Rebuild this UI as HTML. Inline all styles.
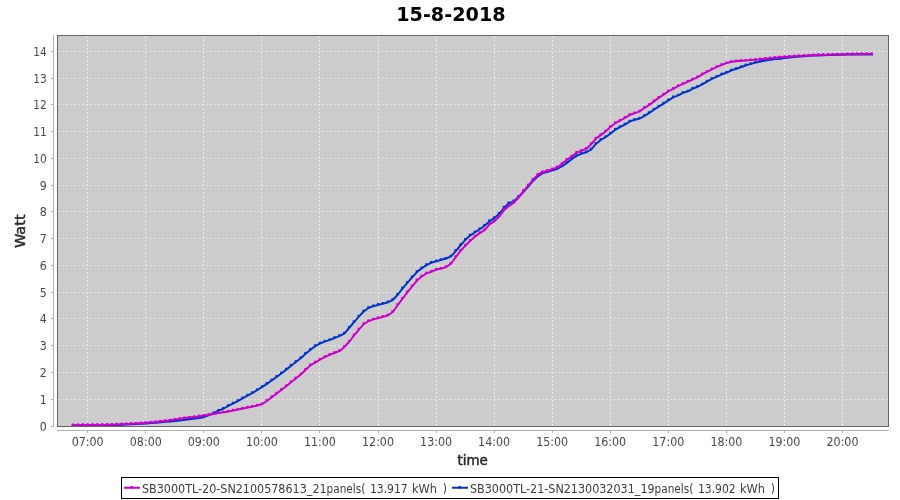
<!DOCTYPE html>
<html lang="en">
<head>
<meta charset="utf-8">
<title>15-8-2018</title>
<style>
html,body{margin:0;padding:0;background:#ffffff;}
body{width:900px;height:500px;overflow:hidden;font-family:"DejaVu Sans Condensed","DejaVu Sans","Liberation Sans",sans-serif;}
svg text{white-space:pre;}
</style>
</head>
<body>
<svg width="900" height="500" viewBox="0 0 900 500" style="display:block">
<rect x="0" y="0" width="900" height="500" fill="#ffffff"/>
<text x="450.9" y="20.6" text-anchor="middle" font-family="'DejaVu Sans', 'Liberation Sans', sans-serif" font-weight="bold" font-size="20" fill="#000" textLength="109.4" lengthAdjust="spacingAndGlyphs">15-8-2018</text>
<rect x="57" y="35" width="832" height="392" fill="#cccccc"/>
<g stroke="#ffffff" stroke-opacity="0.56" stroke-width="1" stroke-dasharray="2,2" shape-rendering="crispEdges"><line x1="87.5" y1="36" x2="87.5" y2="426"/><line x1="145.5" y1="36" x2="145.5" y2="426"/><line x1="203.5" y1="36" x2="203.5" y2="426"/><line x1="261.5" y1="36" x2="261.5" y2="426"/><line x1="319.5" y1="36" x2="319.5" y2="426"/><line x1="378.5" y1="36" x2="378.5" y2="426"/><line x1="436.5" y1="36" x2="436.5" y2="426"/><line x1="494.5" y1="36" x2="494.5" y2="426"/><line x1="552.5" y1="36" x2="552.5" y2="426"/><line x1="610.5" y1="36" x2="610.5" y2="426"/><line x1="668.5" y1="36" x2="668.5" y2="426"/><line x1="726.5" y1="36" x2="726.5" y2="426"/><line x1="784.5" y1="36" x2="784.5" y2="426"/><line x1="842.5" y1="36" x2="842.5" y2="426"/></g>
<g stroke="#ffffff" stroke-opacity="0.47" stroke-width="1" stroke-dasharray="2,2" shape-rendering="crispEdges"><line x1="58" y1="426.5" x2="888" y2="426.5"/><line x1="58" y1="399.5" x2="888" y2="399.5"/><line x1="58" y1="372.5" x2="888" y2="372.5"/><line x1="58" y1="345.5" x2="888" y2="345.5"/><line x1="58" y1="318.5" x2="888" y2="318.5"/><line x1="58" y1="292.5" x2="888" y2="292.5"/><line x1="58" y1="265.5" x2="888" y2="265.5"/><line x1="58" y1="238.5" x2="888" y2="238.5"/><line x1="58" y1="211.5" x2="888" y2="211.5"/><line x1="58" y1="185.5" x2="888" y2="185.5"/><line x1="58" y1="158.5" x2="888" y2="158.5"/><line x1="58" y1="131.5" x2="888" y2="131.5"/><line x1="58" y1="104.5" x2="888" y2="104.5"/><line x1="58" y1="78.5" x2="888" y2="78.5"/><line x1="58" y1="51.5" x2="888" y2="51.5"/></g>
<polyline points="73.3,425.4 78.5,425.4 83.4,425.3 88.2,425.3 93.0,425.2 97.9,425.2 102.7,425.1 107.6,425.0 112.4,425.0 117.2,424.9 122.1,424.7 126.9,424.5 131.7,424.3 136.6,424.0 141.4,423.8 146.3,423.5 151.1,423.1 155.9,422.8 160.8,422.3 165.6,421.8 170.5,421.4 175.3,420.9 180.1,420.4 185.0,419.8 189.8,419.2 194.6,418.6 199.5,417.9 204.3,416.9 209.2,415.1 214.0,413.0 218.8,410.6 223.7,408.5 228.5,405.8 233.4,403.4 238.2,400.9 243.0,398.1 247.9,395.4 252.7,392.9 257.5,390.0 262.4,386.8 267.2,383.6 272.1,380.2 276.9,376.7 281.7,373.2 286.6,369.4 291.4,365.5 296.2,361.8 301.1,358.0 305.9,353.6 310.8,349.5 315.6,345.9 320.4,343.3 325.3,341.4 330.1,339.9 335.0,337.8 339.8,335.8 344.6,333.4 349.5,327.5 354.3,321.9 359.1,316.4 364.0,311.2 368.8,307.8 373.7,306.1 378.5,304.7 383.3,303.6 388.2,302.2 393.0,299.8 397.9,294.5 402.7,288.3 407.5,282.7 412.4,277.2 417.2,271.8 422.0,268.1 426.9,264.8 431.7,262.5 436.6,261.2 441.4,259.8 446.2,258.5 451.1,256.4 455.9,250.8 460.8,245.0 465.6,239.6 470.4,235.3 475.3,232.2 480.1,229.0 484.9,225.5 489.8,221.1 494.6,217.9 499.5,213.5 504.3,207.5 509.1,203.1 514.0,201.2 518.8,196.7 523.7,191.7 528.5,186.4 533.3,180.7 538.2,176.1 543.0,173.0 547.8,171.7 552.7,170.3 557.5,168.7 562.4,166.2 567.2,162.6 572.0,158.9 576.9,155.6 581.7,153.6 586.5,152.2 591.4,149.3 596.2,143.7 601.1,139.7 605.9,137.0 610.7,133.4 615.6,129.5 620.4,126.9 625.3,124.3 630.1,121.4 634.9,119.8 639.8,118.5 644.6,115.8 649.4,112.9 654.3,109.5 659.1,106.4 664.0,103.3 668.8,100.1 673.6,97.1 678.5,95.4 683.3,92.7 688.2,91.3 693.0,88.5 697.8,86.7 702.7,84.2 707.5,81.4 712.3,78.7 717.2,76.6 722.0,74.3 726.9,72.5 731.7,70.3 736.5,68.8 741.4,67.0 746.2,65.2 751.1,63.9 755.9,62.5 760.7,61.5 765.6,60.5 770.4,59.8 775.2,59.1 780.1,58.7 784.9,58.1 789.8,57.5 794.6,57.0 799.4,56.6 804.3,56.2 809.1,55.8 814.0,55.6 818.8,55.4 823.6,55.2 828.5,55.0 833.3,54.9 838.1,54.8 843.0,54.7 847.8,54.5 852.7,54.5 857.5,54.5 862.3,54.4 867.2,54.4 872.0,54.4" fill="none" stroke="#0033cc" stroke-width="2" stroke-linejoin="round" stroke-linecap="square"/>
<g fill="#0033cc"><rect x="71.7" y="423.8" width="2.2" height="2.2"/><rect x="76.9" y="423.8" width="2.2" height="2.2"/><rect x="81.8" y="423.7" width="2.2" height="2.2"/><rect x="86.6" y="423.7" width="2.2" height="2.2"/><rect x="91.4" y="423.6" width="2.2" height="2.2"/><rect x="96.3" y="423.6" width="2.2" height="2.2"/><rect x="101.1" y="423.5" width="2.2" height="2.2"/><rect x="106.0" y="423.4" width="2.2" height="2.2"/><rect x="110.8" y="423.4" width="2.2" height="2.2"/><rect x="115.6" y="423.3" width="2.2" height="2.2"/><rect x="120.5" y="423.1" width="2.2" height="2.2"/><rect x="125.3" y="422.9" width="2.2" height="2.2"/><rect x="130.1" y="422.7" width="2.2" height="2.2"/><rect x="135.0" y="422.4" width="2.2" height="2.2"/><rect x="139.8" y="422.2" width="2.2" height="2.2"/><rect x="144.7" y="421.9" width="2.2" height="2.2"/><rect x="149.5" y="421.5" width="2.2" height="2.2"/><rect x="154.3" y="421.2" width="2.2" height="2.2"/><rect x="159.2" y="420.7" width="2.2" height="2.2"/><rect x="164.0" y="420.2" width="2.2" height="2.2"/><rect x="168.9" y="419.8" width="2.2" height="2.2"/><rect x="173.7" y="419.3" width="2.2" height="2.2"/><rect x="178.5" y="418.8" width="2.2" height="2.2"/><rect x="183.4" y="418.2" width="2.2" height="2.2"/><rect x="188.2" y="417.6" width="2.2" height="2.2"/><rect x="193.0" y="417.0" width="2.2" height="2.2"/><rect x="197.9" y="416.3" width="2.2" height="2.2"/><rect x="202.7" y="415.3" width="2.2" height="2.2"/><rect x="207.6" y="413.5" width="2.2" height="2.2"/><rect x="212.4" y="411.4" width="2.2" height="2.2"/><rect x="217.2" y="409.0" width="2.2" height="2.2"/><rect x="222.1" y="406.9" width="2.2" height="2.2"/><rect x="226.9" y="404.2" width="2.2" height="2.2"/><rect x="231.8" y="401.8" width="2.2" height="2.2"/><rect x="236.6" y="399.3" width="2.2" height="2.2"/><rect x="241.4" y="396.5" width="2.2" height="2.2"/><rect x="246.3" y="393.8" width="2.2" height="2.2"/><rect x="251.1" y="391.3" width="2.2" height="2.2"/><rect x="255.9" y="388.4" width="2.2" height="2.2"/><rect x="260.8" y="385.2" width="2.2" height="2.2"/><rect x="265.6" y="382.0" width="2.2" height="2.2"/><rect x="270.5" y="378.6" width="2.2" height="2.2"/><rect x="275.3" y="375.1" width="2.2" height="2.2"/><rect x="280.1" y="371.6" width="2.2" height="2.2"/><rect x="285.0" y="367.8" width="2.2" height="2.2"/><rect x="289.8" y="363.9" width="2.2" height="2.2"/><rect x="294.6" y="360.2" width="2.2" height="2.2"/><rect x="299.5" y="356.4" width="2.2" height="2.2"/><rect x="304.3" y="351.9" width="2.2" height="2.2"/><rect x="309.2" y="347.9" width="2.2" height="2.2"/><rect x="314.0" y="344.3" width="2.2" height="2.2"/><rect x="318.8" y="341.7" width="2.2" height="2.2"/><rect x="323.7" y="339.8" width="2.2" height="2.2"/><rect x="328.5" y="338.3" width="2.2" height="2.2"/><rect x="333.4" y="336.2" width="2.2" height="2.2"/><rect x="338.2" y="334.2" width="2.2" height="2.2"/><rect x="343.0" y="331.8" width="2.2" height="2.2"/><rect x="347.9" y="325.9" width="2.2" height="2.2"/><rect x="352.7" y="320.3" width="2.2" height="2.2"/><rect x="357.5" y="314.8" width="2.2" height="2.2"/><rect x="362.4" y="309.6" width="2.2" height="2.2"/><rect x="367.2" y="306.2" width="2.2" height="2.2"/><rect x="372.1" y="304.5" width="2.2" height="2.2"/><rect x="376.9" y="303.1" width="2.2" height="2.2"/><rect x="381.7" y="302.0" width="2.2" height="2.2"/><rect x="386.6" y="300.6" width="2.2" height="2.2"/><rect x="391.4" y="298.2" width="2.2" height="2.2"/><rect x="396.3" y="292.9" width="2.2" height="2.2"/><rect x="401.1" y="286.7" width="2.2" height="2.2"/><rect x="405.9" y="281.1" width="2.2" height="2.2"/><rect x="410.8" y="275.6" width="2.2" height="2.2"/><rect x="415.6" y="270.2" width="2.2" height="2.2"/><rect x="420.4" y="266.5" width="2.2" height="2.2"/><rect x="425.3" y="263.2" width="2.2" height="2.2"/><rect x="430.1" y="260.9" width="2.2" height="2.2"/><rect x="435.0" y="259.6" width="2.2" height="2.2"/><rect x="439.8" y="258.2" width="2.2" height="2.2"/><rect x="444.6" y="256.9" width="2.2" height="2.2"/><rect x="449.5" y="254.8" width="2.2" height="2.2"/><rect x="454.3" y="249.2" width="2.2" height="2.2"/><rect x="459.2" y="243.4" width="2.2" height="2.2"/><rect x="464.0" y="238.0" width="2.2" height="2.2"/><rect x="468.8" y="233.7" width="2.2" height="2.2"/><rect x="473.7" y="230.6" width="2.2" height="2.2"/><rect x="478.5" y="227.4" width="2.2" height="2.2"/><rect x="483.3" y="223.9" width="2.2" height="2.2"/><rect x="488.2" y="219.5" width="2.2" height="2.2"/><rect x="493.0" y="216.3" width="2.2" height="2.2"/><rect x="497.9" y="211.9" width="2.2" height="2.2"/><rect x="502.7" y="205.9" width="2.2" height="2.2"/><rect x="507.5" y="201.5" width="2.2" height="2.2"/><rect x="512.4" y="199.6" width="2.2" height="2.2"/><rect x="517.2" y="195.1" width="2.2" height="2.2"/><rect x="522.1" y="190.1" width="2.2" height="2.2"/><rect x="526.9" y="184.8" width="2.2" height="2.2"/><rect x="531.7" y="179.1" width="2.2" height="2.2"/><rect x="536.6" y="174.5" width="2.2" height="2.2"/><rect x="541.4" y="171.4" width="2.2" height="2.2"/><rect x="546.2" y="170.1" width="2.2" height="2.2"/><rect x="551.1" y="168.7" width="2.2" height="2.2"/><rect x="555.9" y="167.1" width="2.2" height="2.2"/><rect x="560.8" y="164.6" width="2.2" height="2.2"/><rect x="565.6" y="161.0" width="2.2" height="2.2"/><rect x="570.4" y="157.3" width="2.2" height="2.2"/><rect x="575.3" y="154.0" width="2.2" height="2.2"/><rect x="580.1" y="152.0" width="2.2" height="2.2"/><rect x="584.9" y="150.6" width="2.2" height="2.2"/><rect x="589.8" y="147.7" width="2.2" height="2.2"/><rect x="594.6" y="142.1" width="2.2" height="2.2"/><rect x="599.5" y="138.1" width="2.2" height="2.2"/><rect x="604.3" y="135.4" width="2.2" height="2.2"/><rect x="609.1" y="131.8" width="2.2" height="2.2"/><rect x="614.0" y="127.9" width="2.2" height="2.2"/><rect x="618.8" y="125.3" width="2.2" height="2.2"/><rect x="623.7" y="122.7" width="2.2" height="2.2"/><rect x="628.5" y="119.8" width="2.2" height="2.2"/><rect x="633.3" y="118.2" width="2.2" height="2.2"/><rect x="638.2" y="116.9" width="2.2" height="2.2"/><rect x="643.0" y="114.2" width="2.2" height="2.2"/><rect x="647.8" y="111.3" width="2.2" height="2.2"/><rect x="652.7" y="107.9" width="2.2" height="2.2"/><rect x="657.5" y="104.8" width="2.2" height="2.2"/><rect x="662.4" y="101.7" width="2.2" height="2.2"/><rect x="667.2" y="98.5" width="2.2" height="2.2"/><rect x="672.0" y="95.5" width="2.2" height="2.2"/><rect x="676.9" y="93.8" width="2.2" height="2.2"/><rect x="681.7" y="91.1" width="2.2" height="2.2"/><rect x="686.6" y="89.7" width="2.2" height="2.2"/><rect x="691.4" y="86.9" width="2.2" height="2.2"/><rect x="696.2" y="85.1" width="2.2" height="2.2"/><rect x="701.1" y="82.6" width="2.2" height="2.2"/><rect x="705.9" y="79.8" width="2.2" height="2.2"/><rect x="710.7" y="77.1" width="2.2" height="2.2"/><rect x="715.6" y="75.0" width="2.2" height="2.2"/><rect x="720.4" y="72.7" width="2.2" height="2.2"/><rect x="725.3" y="70.9" width="2.2" height="2.2"/><rect x="730.1" y="68.7" width="2.2" height="2.2"/><rect x="734.9" y="67.2" width="2.2" height="2.2"/><rect x="739.8" y="65.4" width="2.2" height="2.2"/><rect x="744.6" y="63.6" width="2.2" height="2.2"/><rect x="749.5" y="62.3" width="2.2" height="2.2"/><rect x="754.3" y="60.9" width="2.2" height="2.2"/><rect x="759.1" y="59.9" width="2.2" height="2.2"/><rect x="764.0" y="58.9" width="2.2" height="2.2"/><rect x="768.8" y="58.2" width="2.2" height="2.2"/><rect x="773.6" y="57.5" width="2.2" height="2.2"/><rect x="778.5" y="57.1" width="2.2" height="2.2"/><rect x="783.3" y="56.5" width="2.2" height="2.2"/><rect x="788.2" y="55.9" width="2.2" height="2.2"/><rect x="793.0" y="55.4" width="2.2" height="2.2"/><rect x="797.8" y="55.0" width="2.2" height="2.2"/><rect x="802.7" y="54.6" width="2.2" height="2.2"/><rect x="807.5" y="54.2" width="2.2" height="2.2"/><rect x="812.4" y="54.0" width="2.2" height="2.2"/><rect x="817.2" y="53.8" width="2.2" height="2.2"/><rect x="822.0" y="53.6" width="2.2" height="2.2"/><rect x="826.9" y="53.4" width="2.2" height="2.2"/><rect x="831.7" y="53.3" width="2.2" height="2.2"/><rect x="836.5" y="53.2" width="2.2" height="2.2"/><rect x="841.4" y="53.1" width="2.2" height="2.2"/><rect x="846.2" y="52.9" width="2.2" height="2.2"/><rect x="851.1" y="52.9" width="2.2" height="2.2"/><rect x="855.9" y="52.9" width="2.2" height="2.2"/><rect x="860.7" y="52.8" width="2.2" height="2.2"/><rect x="865.6" y="52.8" width="2.2" height="2.2"/><rect x="870.4" y="52.8" width="2.2" height="2.2"/></g>

<polyline points="73.3,425.2 78.5,425.2 83.4,425.1 88.2,425.1 93.0,425.0 97.9,425.0 102.7,424.9 107.6,424.8 112.4,424.7 117.2,424.5 122.1,424.3 126.9,424.1 131.7,423.8 136.6,423.5 141.4,423.2 146.3,422.8 151.1,422.5 155.9,422.1 160.8,421.5 165.6,420.9 170.5,420.3 175.3,419.6 180.1,418.8 185.0,418.1 189.8,417.5 194.6,416.9 199.5,416.2 204.3,415.5 209.2,414.8 214.0,413.9 218.8,413.0 223.7,412.3 228.5,411.4 233.4,410.4 238.2,409.5 243.0,408.5 247.9,407.5 252.7,406.6 257.5,405.5 262.4,404.0 267.2,400.7 272.1,397.0 276.9,393.4 281.7,389.7 286.6,385.9 291.4,382.0 296.2,378.2 301.1,374.3 305.9,369.5 310.8,365.1 315.6,362.3 320.4,359.4 325.3,356.9 330.1,354.6 335.0,352.7 339.8,350.9 344.6,346.7 349.5,341.5 354.3,335.2 359.1,329.3 364.0,323.9 368.8,321.0 373.7,319.4 378.5,318.0 383.3,316.7 388.2,315.3 393.0,311.8 397.9,304.8 402.7,298.5 407.5,292.1 412.4,286.2 417.2,280.3 422.0,276.3 426.9,273.2 431.7,271.6 436.6,269.6 441.4,268.6 446.2,267.0 451.1,263.6 455.9,257.0 460.8,250.6 465.6,245.5 470.4,240.7 475.3,236.4 480.1,232.9 484.9,229.9 489.8,224.2 494.6,221.1 499.5,216.2 504.3,210.0 509.1,205.8 514.0,202.7 518.8,197.3 523.7,190.9 528.5,185.3 533.3,179.5 538.2,174.5 543.0,172.0 547.8,170.7 552.7,169.2 557.5,167.2 562.4,163.6 567.2,159.6 572.0,156.4 576.9,152.5 581.7,150.7 586.5,148.8 591.4,144.0 596.2,138.4 601.1,134.9 605.9,131.2 610.7,126.8 615.6,123.0 620.4,120.5 625.3,117.7 630.1,114.8 634.9,113.1 639.8,111.4 644.6,107.8 649.4,104.9 654.3,101.1 659.1,97.6 664.0,94.4 668.8,91.1 673.6,88.7 678.5,85.9 683.3,83.8 688.2,81.5 693.0,79.3 697.8,77.1 702.7,74.1 707.5,71.6 712.3,69.2 717.2,66.8 722.0,64.8 726.9,63.1 731.7,61.8 736.5,61.2 741.4,60.8 746.2,60.5 751.1,60.1 755.9,59.7 760.7,59.2 765.6,58.7 770.4,58.2 775.2,57.7 780.1,57.3 784.9,56.9 789.8,56.6 794.6,56.3 799.4,56.0 804.3,55.7 809.1,55.5 814.0,55.2 818.8,55.0 823.6,54.9 828.5,54.7 833.3,54.6 838.1,54.5 843.0,54.4 847.8,54.2 852.7,54.2 857.5,54.1 862.3,54.1 867.2,54.1 872.0,54.0" fill="none" stroke="#cc00cc" stroke-width="2" stroke-linejoin="round" stroke-linecap="square"/>
<g fill="#cc00cc"><rect x="71.7" y="423.6" width="2.2" height="2.2"/><rect x="76.9" y="423.6" width="2.2" height="2.2"/><rect x="81.8" y="423.5" width="2.2" height="2.2"/><rect x="86.6" y="423.5" width="2.2" height="2.2"/><rect x="91.4" y="423.4" width="2.2" height="2.2"/><rect x="96.3" y="423.4" width="2.2" height="2.2"/><rect x="101.1" y="423.3" width="2.2" height="2.2"/><rect x="106.0" y="423.2" width="2.2" height="2.2"/><rect x="110.8" y="423.1" width="2.2" height="2.2"/><rect x="115.6" y="422.9" width="2.2" height="2.2"/><rect x="120.5" y="422.7" width="2.2" height="2.2"/><rect x="125.3" y="422.5" width="2.2" height="2.2"/><rect x="130.1" y="422.2" width="2.2" height="2.2"/><rect x="135.0" y="421.9" width="2.2" height="2.2"/><rect x="139.8" y="421.6" width="2.2" height="2.2"/><rect x="144.7" y="421.2" width="2.2" height="2.2"/><rect x="149.5" y="420.9" width="2.2" height="2.2"/><rect x="154.3" y="420.5" width="2.2" height="2.2"/><rect x="159.2" y="419.9" width="2.2" height="2.2"/><rect x="164.0" y="419.3" width="2.2" height="2.2"/><rect x="168.9" y="418.7" width="2.2" height="2.2"/><rect x="173.7" y="418.0" width="2.2" height="2.2"/><rect x="178.5" y="417.2" width="2.2" height="2.2"/><rect x="183.4" y="416.5" width="2.2" height="2.2"/><rect x="188.2" y="415.9" width="2.2" height="2.2"/><rect x="193.0" y="415.3" width="2.2" height="2.2"/><rect x="197.9" y="414.6" width="2.2" height="2.2"/><rect x="202.7" y="413.9" width="2.2" height="2.2"/><rect x="207.6" y="413.2" width="2.2" height="2.2"/><rect x="212.4" y="412.3" width="2.2" height="2.2"/><rect x="217.2" y="411.4" width="2.2" height="2.2"/><rect x="222.1" y="410.7" width="2.2" height="2.2"/><rect x="226.9" y="409.8" width="2.2" height="2.2"/><rect x="231.8" y="408.8" width="2.2" height="2.2"/><rect x="236.6" y="407.9" width="2.2" height="2.2"/><rect x="241.4" y="406.9" width="2.2" height="2.2"/><rect x="246.3" y="405.9" width="2.2" height="2.2"/><rect x="251.1" y="405.0" width="2.2" height="2.2"/><rect x="255.9" y="403.9" width="2.2" height="2.2"/><rect x="260.8" y="402.4" width="2.2" height="2.2"/><rect x="265.6" y="399.1" width="2.2" height="2.2"/><rect x="270.5" y="395.4" width="2.2" height="2.2"/><rect x="275.3" y="391.8" width="2.2" height="2.2"/><rect x="280.1" y="388.1" width="2.2" height="2.2"/><rect x="285.0" y="384.3" width="2.2" height="2.2"/><rect x="289.8" y="380.4" width="2.2" height="2.2"/><rect x="294.6" y="376.6" width="2.2" height="2.2"/><rect x="299.5" y="372.7" width="2.2" height="2.2"/><rect x="304.3" y="367.9" width="2.2" height="2.2"/><rect x="309.2" y="363.5" width="2.2" height="2.2"/><rect x="314.0" y="360.7" width="2.2" height="2.2"/><rect x="318.8" y="357.8" width="2.2" height="2.2"/><rect x="323.7" y="355.3" width="2.2" height="2.2"/><rect x="328.5" y="353.0" width="2.2" height="2.2"/><rect x="333.4" y="351.1" width="2.2" height="2.2"/><rect x="338.2" y="349.3" width="2.2" height="2.2"/><rect x="343.0" y="345.1" width="2.2" height="2.2"/><rect x="347.9" y="339.9" width="2.2" height="2.2"/><rect x="352.7" y="333.6" width="2.2" height="2.2"/><rect x="357.5" y="327.7" width="2.2" height="2.2"/><rect x="362.4" y="322.3" width="2.2" height="2.2"/><rect x="367.2" y="319.4" width="2.2" height="2.2"/><rect x="372.1" y="317.8" width="2.2" height="2.2"/><rect x="376.9" y="316.4" width="2.2" height="2.2"/><rect x="381.7" y="315.1" width="2.2" height="2.2"/><rect x="386.6" y="313.7" width="2.2" height="2.2"/><rect x="391.4" y="310.2" width="2.2" height="2.2"/><rect x="396.3" y="303.2" width="2.2" height="2.2"/><rect x="401.1" y="296.9" width="2.2" height="2.2"/><rect x="405.9" y="290.5" width="2.2" height="2.2"/><rect x="410.8" y="284.6" width="2.2" height="2.2"/><rect x="415.6" y="278.7" width="2.2" height="2.2"/><rect x="420.4" y="274.7" width="2.2" height="2.2"/><rect x="425.3" y="271.6" width="2.2" height="2.2"/><rect x="430.1" y="270.0" width="2.2" height="2.2"/><rect x="435.0" y="268.0" width="2.2" height="2.2"/><rect x="439.8" y="267.0" width="2.2" height="2.2"/><rect x="444.6" y="265.4" width="2.2" height="2.2"/><rect x="449.5" y="262.0" width="2.2" height="2.2"/><rect x="454.3" y="255.4" width="2.2" height="2.2"/><rect x="459.2" y="249.0" width="2.2" height="2.2"/><rect x="464.0" y="243.9" width="2.2" height="2.2"/><rect x="468.8" y="239.1" width="2.2" height="2.2"/><rect x="473.7" y="234.8" width="2.2" height="2.2"/><rect x="478.5" y="231.3" width="2.2" height="2.2"/><rect x="483.3" y="228.3" width="2.2" height="2.2"/><rect x="488.2" y="222.6" width="2.2" height="2.2"/><rect x="493.0" y="219.5" width="2.2" height="2.2"/><rect x="497.9" y="214.6" width="2.2" height="2.2"/><rect x="502.7" y="208.4" width="2.2" height="2.2"/><rect x="507.5" y="204.2" width="2.2" height="2.2"/><rect x="512.4" y="201.1" width="2.2" height="2.2"/><rect x="517.2" y="195.7" width="2.2" height="2.2"/><rect x="522.1" y="189.3" width="2.2" height="2.2"/><rect x="526.9" y="183.7" width="2.2" height="2.2"/><rect x="531.7" y="177.9" width="2.2" height="2.2"/><rect x="536.6" y="172.9" width="2.2" height="2.2"/><rect x="541.4" y="170.4" width="2.2" height="2.2"/><rect x="546.2" y="169.1" width="2.2" height="2.2"/><rect x="551.1" y="167.6" width="2.2" height="2.2"/><rect x="555.9" y="165.6" width="2.2" height="2.2"/><rect x="560.8" y="162.0" width="2.2" height="2.2"/><rect x="565.6" y="158.0" width="2.2" height="2.2"/><rect x="570.4" y="154.8" width="2.2" height="2.2"/><rect x="575.3" y="150.9" width="2.2" height="2.2"/><rect x="580.1" y="149.1" width="2.2" height="2.2"/><rect x="584.9" y="147.2" width="2.2" height="2.2"/><rect x="589.8" y="142.4" width="2.2" height="2.2"/><rect x="594.6" y="136.8" width="2.2" height="2.2"/><rect x="599.5" y="133.3" width="2.2" height="2.2"/><rect x="604.3" y="129.6" width="2.2" height="2.2"/><rect x="609.1" y="125.2" width="2.2" height="2.2"/><rect x="614.0" y="121.4" width="2.2" height="2.2"/><rect x="618.8" y="118.9" width="2.2" height="2.2"/><rect x="623.7" y="116.1" width="2.2" height="2.2"/><rect x="628.5" y="113.2" width="2.2" height="2.2"/><rect x="633.3" y="111.5" width="2.2" height="2.2"/><rect x="638.2" y="109.8" width="2.2" height="2.2"/><rect x="643.0" y="106.2" width="2.2" height="2.2"/><rect x="647.8" y="103.3" width="2.2" height="2.2"/><rect x="652.7" y="99.5" width="2.2" height="2.2"/><rect x="657.5" y="96.0" width="2.2" height="2.2"/><rect x="662.4" y="92.8" width="2.2" height="2.2"/><rect x="667.2" y="89.5" width="2.2" height="2.2"/><rect x="672.0" y="87.1" width="2.2" height="2.2"/><rect x="676.9" y="84.3" width="2.2" height="2.2"/><rect x="681.7" y="82.2" width="2.2" height="2.2"/><rect x="686.6" y="79.9" width="2.2" height="2.2"/><rect x="691.4" y="77.7" width="2.2" height="2.2"/><rect x="696.2" y="75.5" width="2.2" height="2.2"/><rect x="701.1" y="72.5" width="2.2" height="2.2"/><rect x="705.9" y="70.0" width="2.2" height="2.2"/><rect x="710.7" y="67.6" width="2.2" height="2.2"/><rect x="715.6" y="65.2" width="2.2" height="2.2"/><rect x="720.4" y="63.2" width="2.2" height="2.2"/><rect x="725.3" y="61.5" width="2.2" height="2.2"/><rect x="730.1" y="60.2" width="2.2" height="2.2"/><rect x="734.9" y="59.6" width="2.2" height="2.2"/><rect x="739.8" y="59.2" width="2.2" height="2.2"/><rect x="744.6" y="58.9" width="2.2" height="2.2"/><rect x="749.5" y="58.5" width="2.2" height="2.2"/><rect x="754.3" y="58.1" width="2.2" height="2.2"/><rect x="759.1" y="57.6" width="2.2" height="2.2"/><rect x="764.0" y="57.1" width="2.2" height="2.2"/><rect x="768.8" y="56.6" width="2.2" height="2.2"/><rect x="773.6" y="56.1" width="2.2" height="2.2"/><rect x="778.5" y="55.7" width="2.2" height="2.2"/><rect x="783.3" y="55.3" width="2.2" height="2.2"/><rect x="788.2" y="55.0" width="2.2" height="2.2"/><rect x="793.0" y="54.7" width="2.2" height="2.2"/><rect x="797.8" y="54.4" width="2.2" height="2.2"/><rect x="802.7" y="54.1" width="2.2" height="2.2"/><rect x="807.5" y="53.9" width="2.2" height="2.2"/><rect x="812.4" y="53.6" width="2.2" height="2.2"/><rect x="817.2" y="53.4" width="2.2" height="2.2"/><rect x="822.0" y="53.3" width="2.2" height="2.2"/><rect x="826.9" y="53.1" width="2.2" height="2.2"/><rect x="831.7" y="53.0" width="2.2" height="2.2"/><rect x="836.5" y="52.9" width="2.2" height="2.2"/><rect x="841.4" y="52.8" width="2.2" height="2.2"/><rect x="846.2" y="52.6" width="2.2" height="2.2"/><rect x="851.1" y="52.6" width="2.2" height="2.2"/><rect x="855.9" y="52.5" width="2.2" height="2.2"/><rect x="860.7" y="52.5" width="2.2" height="2.2"/><rect x="865.6" y="52.5" width="2.2" height="2.2"/><rect x="870.4" y="52.4" width="2.2" height="2.2"/></g>

<rect x="57.5" y="35.5" width="831" height="391" fill="none" stroke="#666666" stroke-width="1" shape-rendering="crispEdges"/>
<g stroke="#b2b2b2" stroke-width="1" shape-rendering="crispEdges"><line x1="53.5" y1="35" x2="53.5" y2="427"/><line x1="57" y1="430.5" x2="889" y2="430.5"/><line x1="87.5" y1="430" x2="87.5" y2="433"/><line x1="145.5" y1="430" x2="145.5" y2="433"/><line x1="203.5" y1="430" x2="203.5" y2="433"/><line x1="261.5" y1="430" x2="261.5" y2="433"/><line x1="319.5" y1="430" x2="319.5" y2="433"/><line x1="378.5" y1="430" x2="378.5" y2="433"/><line x1="436.5" y1="430" x2="436.5" y2="433"/><line x1="494.5" y1="430" x2="494.5" y2="433"/><line x1="552.5" y1="430" x2="552.5" y2="433"/><line x1="610.5" y1="430" x2="610.5" y2="433"/><line x1="668.5" y1="430" x2="668.5" y2="433"/><line x1="726.5" y1="430" x2="726.5" y2="433"/><line x1="784.5" y1="430" x2="784.5" y2="433"/><line x1="842.5" y1="430" x2="842.5" y2="433"/><line x1="51" y1="426.5" x2="54" y2="426.5"/><line x1="51" y1="399.5" x2="54" y2="399.5"/><line x1="51" y1="372.5" x2="54" y2="372.5"/><line x1="51" y1="345.5" x2="54" y2="345.5"/><line x1="51" y1="318.5" x2="54" y2="318.5"/><line x1="51" y1="292.5" x2="54" y2="292.5"/><line x1="51" y1="265.5" x2="54" y2="265.5"/><line x1="51" y1="238.5" x2="54" y2="238.5"/><line x1="51" y1="211.5" x2="54" y2="211.5"/><line x1="51" y1="185.5" x2="54" y2="185.5"/><line x1="51" y1="158.5" x2="54" y2="158.5"/><line x1="51" y1="131.5" x2="54" y2="131.5"/><line x1="51" y1="104.5" x2="54" y2="104.5"/><line x1="51" y1="78.5" x2="54" y2="78.5"/><line x1="51" y1="51.5" x2="54" y2="51.5"/></g>
<g font-family="'DejaVu Sans Condensed', 'DejaVu Sans', 'Liberation Sans', sans-serif" font-size="12" fill="#484848"><text x="87.7" y="445.8" text-anchor="middle" textLength="32" lengthAdjust="spacingAndGlyphs">07:00</text><text x="145.8" y="445.8" text-anchor="middle" textLength="32" lengthAdjust="spacingAndGlyphs">08:00</text><text x="203.8" y="445.8" text-anchor="middle" textLength="32" lengthAdjust="spacingAndGlyphs">09:00</text><text x="261.9" y="445.8" text-anchor="middle" textLength="32" lengthAdjust="spacingAndGlyphs">10:00</text><text x="319.9" y="445.8" text-anchor="middle" textLength="32" lengthAdjust="spacingAndGlyphs">11:00</text><text x="378.0" y="445.8" text-anchor="middle" textLength="32" lengthAdjust="spacingAndGlyphs">12:00</text><text x="436.1" y="445.8" text-anchor="middle" textLength="32" lengthAdjust="spacingAndGlyphs">13:00</text><text x="494.1" y="445.8" text-anchor="middle" textLength="32" lengthAdjust="spacingAndGlyphs">14:00</text><text x="552.2" y="445.8" text-anchor="middle" textLength="32" lengthAdjust="spacingAndGlyphs">15:00</text><text x="610.2" y="445.8" text-anchor="middle" textLength="32" lengthAdjust="spacingAndGlyphs">16:00</text><text x="668.3" y="445.8" text-anchor="middle" textLength="32" lengthAdjust="spacingAndGlyphs">17:00</text><text x="726.4" y="445.8" text-anchor="middle" textLength="32" lengthAdjust="spacingAndGlyphs">18:00</text><text x="784.4" y="445.8" text-anchor="middle" textLength="32" lengthAdjust="spacingAndGlyphs">19:00</text><text x="842.5" y="445.8" text-anchor="middle" textLength="32" lengthAdjust="spacingAndGlyphs">20:00</text><text x="46.7" y="431.0" text-anchor="end" textLength="7" lengthAdjust="spacingAndGlyphs">0</text><text x="46.7" y="404.0" text-anchor="end" textLength="7" lengthAdjust="spacingAndGlyphs">1</text><text x="46.7" y="377.0" text-anchor="end" textLength="7" lengthAdjust="spacingAndGlyphs">2</text><text x="46.7" y="350.0" text-anchor="end" textLength="7" lengthAdjust="spacingAndGlyphs">3</text><text x="46.7" y="323.0" text-anchor="end" textLength="7" lengthAdjust="spacingAndGlyphs">4</text><text x="46.7" y="297.0" text-anchor="end" textLength="7" lengthAdjust="spacingAndGlyphs">5</text><text x="46.7" y="270.0" text-anchor="end" textLength="7" lengthAdjust="spacingAndGlyphs">6</text><text x="46.7" y="243.0" text-anchor="end" textLength="7" lengthAdjust="spacingAndGlyphs">7</text><text x="46.7" y="216.0" text-anchor="end" textLength="7" lengthAdjust="spacingAndGlyphs">8</text><text x="46.7" y="190.0" text-anchor="end" textLength="7" lengthAdjust="spacingAndGlyphs">9</text><text x="46.7" y="163.0" text-anchor="end" textLength="13.5" lengthAdjust="spacingAndGlyphs">10</text><text x="46.7" y="136.0" text-anchor="end" textLength="13.5" lengthAdjust="spacingAndGlyphs">11</text><text x="46.7" y="109.0" text-anchor="end" textLength="13.5" lengthAdjust="spacingAndGlyphs">12</text><text x="46.7" y="83.0" text-anchor="end" textLength="13.5" lengthAdjust="spacingAndGlyphs">13</text><text x="46.7" y="56.0" text-anchor="end" textLength="13.5" lengthAdjust="spacingAndGlyphs">14</text></g>
<text x="472.7" y="464.7" text-anchor="middle" font-family="'DejaVu Sans Condensed', 'DejaVu Sans', 'Liberation Sans', sans-serif" font-size="14" fill="#2a2a2a" stroke="#2a2a2a" stroke-width="0.45" textLength="30.5" lengthAdjust="spacingAndGlyphs">time</text>
<text transform="translate(24.9,231.2) rotate(-90)" text-anchor="middle" font-family="'DejaVu Sans Condensed', 'DejaVu Sans', 'Liberation Sans', sans-serif" font-size="14" fill="#2a2a2a" stroke="#2a2a2a" stroke-width="0.45" textLength="33.6" lengthAdjust="spacingAndGlyphs">Watt</text>
<rect x="121.5" y="477.5" width="657" height="21" fill="#ffffff" stroke="#000" stroke-width="1" shape-rendering="crispEdges"/>
<line x1="124" y1="487.75" x2="140" y2="487.75" stroke="#cc00cc" stroke-width="2"/><rect x="130.4" y="486.0" width="2.4" height="2.4" fill="#cc00cc"/>
<line x1="452" y1="487.75" x2="468" y2="487.75" stroke="#0033cc" stroke-width="2"/><rect x="458.4" y="486.0" width="2.4" height="2.4" fill="#0033cc"/>
<g font-family="'DejaVu Sans Condensed', 'DejaVu Sans', 'Liberation Sans', sans-serif" font-size="12" fill="#3c3c3c"><text y="492.7" xml:space="preserve"><tspan x="142.0" textLength="184.6" lengthAdjust="spacingAndGlyphs">SB3000TL-20-SN2100578613_21</tspan><tspan x="326.6" textLength="38.7" lengthAdjust="spacingAndGlyphs">panels(</tspan> <tspan x="369.9" textLength="37.8" lengthAdjust="spacingAndGlyphs">13.917</tspan> <tspan x="412.0" textLength="25" lengthAdjust="spacingAndGlyphs">kWh</tspan> <tspan x="442.8">)</tspan></text><text y="492.7" xml:space="preserve"><tspan x="470.0" textLength="184.6" lengthAdjust="spacingAndGlyphs">SB3000TL-21-SN2130032031_19</tspan><tspan x="654.6" textLength="38.7" lengthAdjust="spacingAndGlyphs">panels(</tspan> <tspan x="697.9" textLength="37.8" lengthAdjust="spacingAndGlyphs">13.902</tspan> <tspan x="740.0" textLength="25" lengthAdjust="spacingAndGlyphs">kWh</tspan> <tspan x="770.8">)</tspan></text></g>
</svg>
</body>
</html>
